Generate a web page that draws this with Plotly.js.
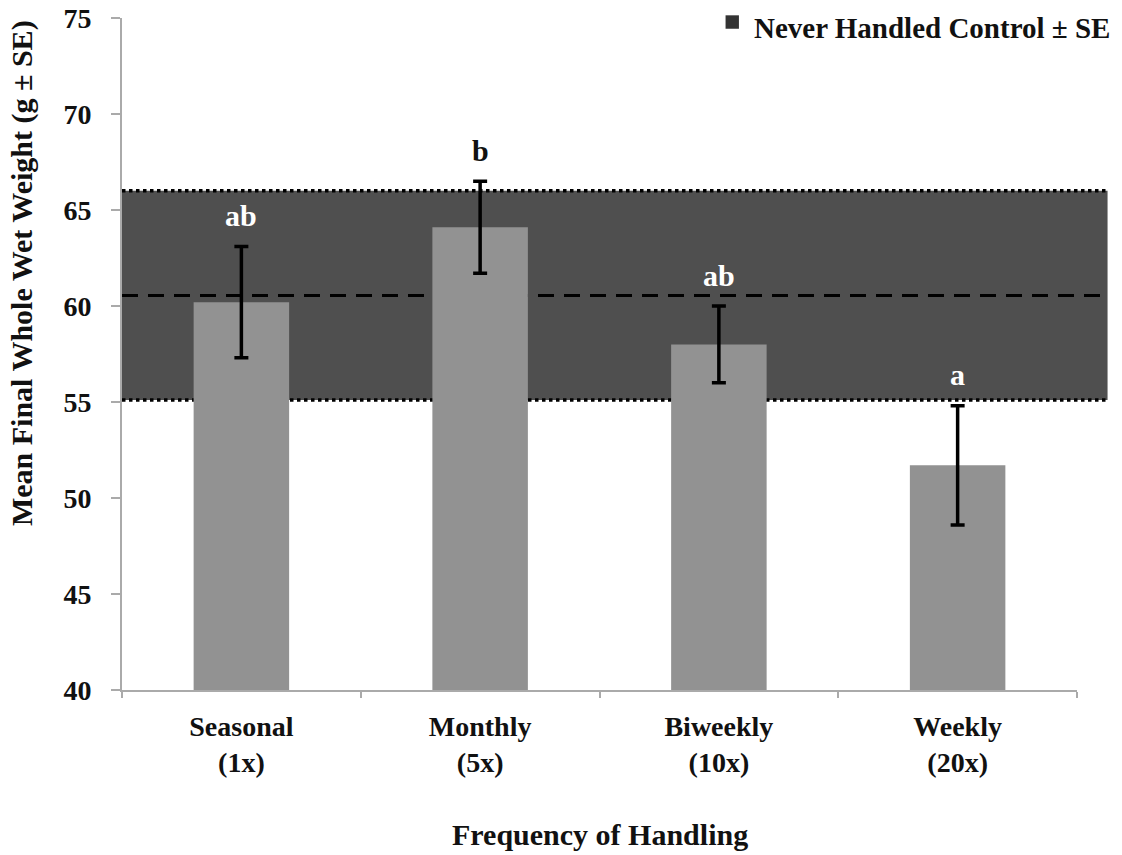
<!DOCTYPE html>
<html>
<head>
<meta charset="utf-8">
<script src="https://cdn.plot.ly/plotly-3.0.1.min.js"></script>
<style>html,body{margin:0;padding:0;background:#fff}#chart{width:1122px;height:855px}</style>
</head>
<body>
<div id="chart"></div>
<script>
// Data
const categories = ["Seasonal<br>(1x)", "Monthly<br>(5x)", "Biweekly<br>(10x)", "Weekly<br>(20x)"];
const meanWeight = [60.2, 64.1, 58.0, 51.7];
const seWeight = [2.9, 2.4, 2.0, 3.1];
const groupLetters = ["ab", "b", "ab", "a"];
const letterColors = ["#ffffff", "#111111", "#ffffff", "#ffffff"];
const controlMean = 60.55;
const controlSE = 5.45;
const yTicks = [40, 45, 50, 55, 60, 65, 70, 75];

const FONT = "Liberation Serif, Times New Roman, serif";

const trace = {
  type: "bar",
  x: categories,
  y: meanWeight,
  width: 0.4,
  marker: {color: "#929292", line: {width: 0}},
  error_y: {type: "data", array: seWeight, visible: true, color: "#000000", thickness: 3.5, width: 7},
  hoverinfo: "x+y"
};

const annotations = groupLetters.map((t, i) => ({
  x: categories[i], y: meanWeight[i] + seWeight[i], xref: "x", yref: "y",
  text: "<b>" + t + "</b>", showarrow: false, yanchor: "middle", yshift: 31,
  font: {family: FONT, size: 30, color: letterColors[i]}
}));

annotations.push({
  xref: "paper", yref: "paper", x: 1.037, y: 1.012, xanchor: "right", yanchor: "top",
  text: "<b>Never Handled Control ± SE</b>", showarrow: false,
  font: {family: FONT, size: 29, color: "#111"}
});
annotations.push({
  xref: "paper", yref: "paper", x: 0.5, y: -0.215, xanchor: "center", yanchor: "middle",
  text: "<b>Frequency of Handling</b>", showarrow: false,
  font: {family: FONT, size: 30, color: "#111"}
});
annotations.push({
  xref: "paper", yref: "paper", x: -0.104, y: 0.62, xanchor: "center", yanchor: "middle",
  textangle: -90,
  text: "<b>Mean Final Whole Wet Weight (g ± SE)</b>", showarrow: false,
  font: {family: FONT, size: 30, color: "#111"}
});

const shapes = [
  {type: "rect", xref: "paper", yref: "y", x0: 0, x1: 1.032, y0: controlMean - controlSE, y1: controlMean + controlSE,
   fillcolor: "#4f4f4f", line: {width: 0}, layer: "below"},
  {type: "line", xref: "paper", yref: "y", x0: 0, x1: 1.032, y0: controlMean + controlSE, y1: controlMean + controlSE,
   line: {color: "#000", width: 3.5, dash: "dot"}, layer: "below"},
  {type: "line", xref: "paper", yref: "y", x0: 0, x1: 1.032, y0: controlMean - controlSE, y1: controlMean - controlSE,
   line: {color: "#000", width: 3.5, dash: "dot"}, layer: "below"},
  {type: "line", xref: "paper", yref: "y", x0: 0, x1: 1.032, y0: controlMean, y1: controlMean,
   line: {color: "#000", width: 3, dash: "16px,10px"}, layer: "below"},
  // legend swatch
  {type: "rect", xref: "paper", yref: "paper", x0: 0.632, x1: 0.646, y0: 0.984, y1: 1.004,
   fillcolor: "#333", line: {width: 0}}
];

const layout = {
  width: 1122, height: 855,
  margin: {l: 122, r: 45, t: 18, b: 165},
  paper_bgcolor: "#fff", plot_bgcolor: "#fff",
  showlegend: false,
  font: {family: FONT, color: "#111"},
  xaxis: {
    type: "category", showgrid: false, zeroline: false,
    showline: true, linecolor: "#aaaaaa", linewidth: 2,
    ticks: "outside", tickson: "boundaries", ticklen: 6, tickcolor: "#aaaaaa", tickwidth: 2,
    tickfont: {family: FONT, size: 28, color: "#111", weight: "bold"},
    ticklabelstandoff: 10,
    range: [-0.5, 3.5]
  },
  yaxis: {
    range: [40, 75], tickvals: yTicks, showgrid: false, zeroline: false,
    showline: true, linecolor: "#aaaaaa", linewidth: 2,
    ticks: "outside", ticklen: 9, tickcolor: "#aaaaaa", tickwidth: 2,
    tickfont: {family: FONT, size: 28, color: "#111", weight: "bold"},
    ticklabelstandoff: 14
  },
  annotations: annotations,
  shapes: shapes
};

Plotly.newPlot("chart", [trace], layout, {displayModeBar: false, staticPlot: true});
</script>
</body>
</html>
